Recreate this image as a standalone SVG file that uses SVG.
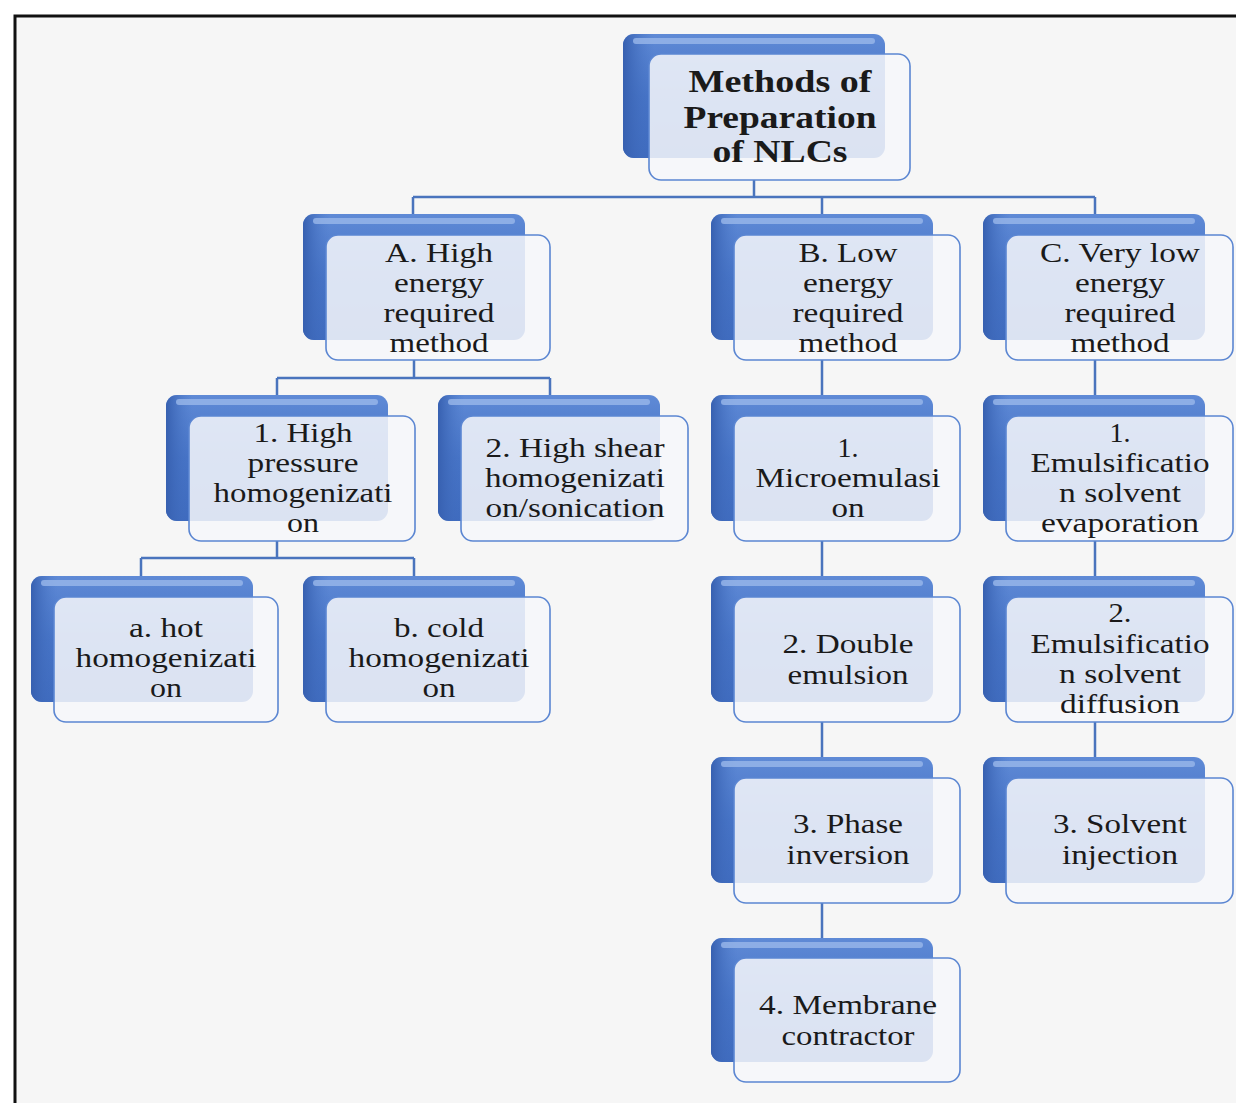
<svg xmlns="http://www.w3.org/2000/svg" width="1236" height="1103" viewBox="0 0 1236 1103">
<defs>
<linearGradient id="blueG" x1="0" y1="0" x2="0" y2="1">
<stop offset="0" stop-color="#5f8ad6"/>
<stop offset="0.5" stop-color="#4673c6"/>
<stop offset="1" stop-color="#3d69bd"/>
</linearGradient>
<linearGradient id="blueL" x1="0" y1="0" x2="1" y2="0">
<stop offset="0" stop-color="#3760b0"/>
<stop offset="0.12" stop-color="#4a78c9" stop-opacity="0"/>
</linearGradient>
<style>
.back{fill:url(#blueG);}
.shade{fill:url(#blueL);}
.hl{fill:#9ab8ea;opacity:0.8;}
.front{fill:#f6f7fa;fill-opacity:0.86;stroke:#5b86d2;stroke-width:1.6;}
.conn{fill:none;stroke:#4a74bd;stroke-width:2.5;}
text{font-family:"Liberation Serif","Times New Roman",serif;font-size:27px;fill:#1a1a1a;text-anchor:middle;}
.bold{font-weight:bold;font-size:31px;}
</style>
</defs>
<rect x="0" y="0" width="1236" height="1103" fill="#ffffff"/>
<rect x="15" y="16" width="1240" height="1100" fill="#f6f6f6" stroke="#111" stroke-width="3"/>
<g id="connectors">
<path class="conn" d="M754 180V197M413 197H1095M413 197V214M822 197V214M1095 197V214"/>
<path class="conn" d="M414 360V378M277 378H550M277 378V395M550 378V395"/>
<path class="conn" d="M277 541V558M141 558H414M141 558V576M414 558V576"/>
<path class="conn" d="M822 360V395M822 541V576M822 722V757M822 903V938"/>
<path class="conn" d="M1095 360V395M1095 541V576M1095 722V757"/>
</g>
<g id="root">
<rect class="back" x="623" y="34" width="262" height="124" rx="11"/>
<rect class="shade" x="623" y="34" width="262" height="124" rx="11"/>
<rect class="hl" x="633" y="38" width="242" height="6" rx="3"/>
<rect class="front" x="649" y="54" width="261" height="126" rx="12"/>
<text class="bold" x="780" y="92" textLength="183" lengthAdjust="spacingAndGlyphs">Methods of</text>
<text class="bold" x="780" y="128" textLength="193" lengthAdjust="spacingAndGlyphs">Preparation</text>
<text class="bold" x="780" y="162" textLength="135" lengthAdjust="spacingAndGlyphs">of NLCs</text>
</g>
<g id="nodeA">
<rect class="back" x="303" y="214" width="222" height="126" rx="11"/>
<rect class="shade" x="303" y="214" width="222" height="126" rx="11"/>
<rect class="hl" x="313" y="218" width="202" height="6" rx="3"/>
<rect class="front" x="326" y="235" width="224" height="125" rx="12"/>
<text x="439" y="262" textLength="108" lengthAdjust="spacingAndGlyphs">A. High</text>
<text x="439" y="292" textLength="90" lengthAdjust="spacingAndGlyphs">energy</text>
<text x="439" y="322" textLength="111" lengthAdjust="spacingAndGlyphs">required</text>
<text x="439" y="352" textLength="99" lengthAdjust="spacingAndGlyphs">method</text>
</g>
<g id="nodeB">
<rect class="back" x="711" y="214" width="222" height="126" rx="11"/>
<rect class="shade" x="711" y="214" width="222" height="126" rx="11"/>
<rect class="hl" x="721" y="218" width="202" height="6" rx="3"/>
<rect class="front" x="734" y="235" width="226" height="125" rx="12"/>
<text x="848" y="262" textLength="99" lengthAdjust="spacingAndGlyphs">B. Low</text>
<text x="848" y="292" textLength="90" lengthAdjust="spacingAndGlyphs">energy</text>
<text x="848" y="322" textLength="111" lengthAdjust="spacingAndGlyphs">required</text>
<text x="848" y="352" textLength="99" lengthAdjust="spacingAndGlyphs">method</text>
</g>
<g id="nodeC">
<rect class="back" x="983" y="214" width="222" height="126" rx="11"/>
<rect class="shade" x="983" y="214" width="222" height="126" rx="11"/>
<rect class="hl" x="993" y="218" width="202" height="6" rx="3"/>
<rect class="front" x="1006" y="235" width="227" height="125" rx="12"/>
<text x="1120" y="262" textLength="160" lengthAdjust="spacingAndGlyphs">C. Very low</text>
<text x="1120" y="292" textLength="90" lengthAdjust="spacingAndGlyphs">energy</text>
<text x="1120" y="322" textLength="111" lengthAdjust="spacingAndGlyphs">required</text>
<text x="1120" y="352" textLength="99" lengthAdjust="spacingAndGlyphs">method</text>
</g>
<g id="nodeA1">
<rect class="back" x="166" y="395" width="222" height="126" rx="11"/>
<rect class="shade" x="166" y="395" width="222" height="126" rx="11"/>
<rect class="hl" x="176" y="399" width="202" height="6" rx="3"/>
<rect class="front" x="189" y="416" width="226" height="125" rx="12"/>
<text x="303" y="442" textLength="99" lengthAdjust="spacingAndGlyphs">1. High</text>
<text x="303" y="472" textLength="111" lengthAdjust="spacingAndGlyphs">pressure</text>
<text x="303" y="502" textLength="179" lengthAdjust="spacingAndGlyphs">homogenizati</text>
<text x="303" y="532" textLength="32" lengthAdjust="spacingAndGlyphs">on</text>
</g>
<g id="nodeA2">
<rect class="back" x="438" y="395" width="222" height="126" rx="11"/>
<rect class="shade" x="438" y="395" width="222" height="126" rx="11"/>
<rect class="hl" x="448" y="399" width="202" height="6" rx="3"/>
<rect class="front" x="461" y="416" width="227" height="125" rx="12"/>
<text x="575" y="457" textLength="179" lengthAdjust="spacingAndGlyphs">2. High shear</text>
<text x="575" y="487" textLength="180" lengthAdjust="spacingAndGlyphs">homogenizati</text>
<text x="575" y="517" textLength="179" lengthAdjust="spacingAndGlyphs">on/sonication</text>
</g>
<g id="nodeB1">
<rect class="back" x="711" y="395" width="222" height="126" rx="11"/>
<rect class="shade" x="711" y="395" width="222" height="126" rx="11"/>
<rect class="hl" x="721" y="399" width="202" height="6" rx="3"/>
<rect class="front" x="734" y="416" width="226" height="125" rx="12"/>
<text x="848" y="457" textLength="21" lengthAdjust="spacingAndGlyphs">1.</text>
<text x="848" y="487" textLength="185" lengthAdjust="spacingAndGlyphs">Microemulasi</text>
<text x="848" y="517" textLength="33" lengthAdjust="spacingAndGlyphs">on</text>
</g>
<g id="nodeC1">
<rect class="back" x="983" y="395" width="222" height="126" rx="11"/>
<rect class="shade" x="983" y="395" width="222" height="126" rx="11"/>
<rect class="hl" x="993" y="399" width="202" height="6" rx="3"/>
<rect class="front" x="1006" y="416" width="227" height="125" rx="12"/>
<text x="1120" y="442" textLength="21" lengthAdjust="spacingAndGlyphs">1.</text>
<text x="1120" y="472" textLength="179" lengthAdjust="spacingAndGlyphs">Emulsificatio</text>
<text x="1120" y="502" textLength="122" lengthAdjust="spacingAndGlyphs">n solvent</text>
<text x="1120" y="532" textLength="158" lengthAdjust="spacingAndGlyphs">evaporation</text>
</g>
<g id="nodeA1a">
<rect class="back" x="31" y="576" width="222" height="126" rx="11"/>
<rect class="shade" x="31" y="576" width="222" height="126" rx="11"/>
<rect class="hl" x="41" y="580" width="202" height="6" rx="3"/>
<rect class="front" x="54" y="597" width="224" height="125" rx="12"/>
<text x="166" y="637" textLength="74" lengthAdjust="spacingAndGlyphs">a. hot</text>
<text x="166" y="667" textLength="181" lengthAdjust="spacingAndGlyphs">homogenizati</text>
<text x="166" y="697" textLength="32" lengthAdjust="spacingAndGlyphs">on</text>
</g>
<g id="nodeA1b">
<rect class="back" x="303" y="576" width="222" height="126" rx="11"/>
<rect class="shade" x="303" y="576" width="222" height="126" rx="11"/>
<rect class="hl" x="313" y="580" width="202" height="6" rx="3"/>
<rect class="front" x="326" y="597" width="224" height="125" rx="12"/>
<text x="439" y="637" textLength="90" lengthAdjust="spacingAndGlyphs">b. cold</text>
<text x="439" y="667" textLength="181" lengthAdjust="spacingAndGlyphs">homogenizati</text>
<text x="439" y="697" textLength="33" lengthAdjust="spacingAndGlyphs">on</text>
</g>
<g id="nodeB2">
<rect class="back" x="711" y="576" width="222" height="126" rx="11"/>
<rect class="shade" x="711" y="576" width="222" height="126" rx="11"/>
<rect class="hl" x="721" y="580" width="202" height="6" rx="3"/>
<rect class="front" x="734" y="597" width="226" height="125" rx="12"/>
<text x="848" y="653" textLength="131" lengthAdjust="spacingAndGlyphs">2. Double</text>
<text x="848" y="684" textLength="121" lengthAdjust="spacingAndGlyphs">emulsion</text>
</g>
<g id="nodeC2">
<rect class="back" x="983" y="576" width="222" height="126" rx="11"/>
<rect class="shade" x="983" y="576" width="222" height="126" rx="11"/>
<rect class="hl" x="993" y="580" width="202" height="6" rx="3"/>
<rect class="front" x="1006" y="597" width="227" height="125" rx="12"/>
<text x="1120" y="622" textLength="23" lengthAdjust="spacingAndGlyphs">2.</text>
<text x="1120" y="653" textLength="179" lengthAdjust="spacingAndGlyphs">Emulsificatio</text>
<text x="1120" y="683" textLength="122" lengthAdjust="spacingAndGlyphs">n solvent</text>
<text x="1120" y="713" textLength="120" lengthAdjust="spacingAndGlyphs">diffusion</text>
</g>
<g id="nodeB3">
<rect class="back" x="711" y="757" width="222" height="126" rx="11"/>
<rect class="shade" x="711" y="757" width="222" height="126" rx="11"/>
<rect class="hl" x="721" y="761" width="202" height="6" rx="3"/>
<rect class="front" x="734" y="778" width="226" height="125" rx="12"/>
<text x="848" y="833" textLength="110" lengthAdjust="spacingAndGlyphs">3. Phase</text>
<text x="848" y="864" textLength="123" lengthAdjust="spacingAndGlyphs">inversion</text>
</g>
<g id="nodeC3">
<rect class="back" x="983" y="757" width="222" height="126" rx="11"/>
<rect class="shade" x="983" y="757" width="222" height="126" rx="11"/>
<rect class="hl" x="993" y="761" width="202" height="6" rx="3"/>
<rect class="front" x="1006" y="778" width="227" height="125" rx="12"/>
<text x="1120" y="833" textLength="134" lengthAdjust="spacingAndGlyphs">3. Solvent</text>
<text x="1120" y="864" textLength="116" lengthAdjust="spacingAndGlyphs">injection</text>
</g>
<g id="nodeB4">
<rect class="back" x="711" y="938" width="222" height="124" rx="11"/>
<rect class="shade" x="711" y="938" width="222" height="124" rx="11"/>
<rect class="hl" x="721" y="942" width="202" height="6" rx="3"/>
<rect class="front" x="734" y="958" width="226" height="124" rx="12"/>
<text x="848" y="1014" textLength="178" lengthAdjust="spacingAndGlyphs">4. Membrane</text>
<text x="848" y="1045" textLength="133" lengthAdjust="spacingAndGlyphs">contractor</text>
</g>
</svg>
